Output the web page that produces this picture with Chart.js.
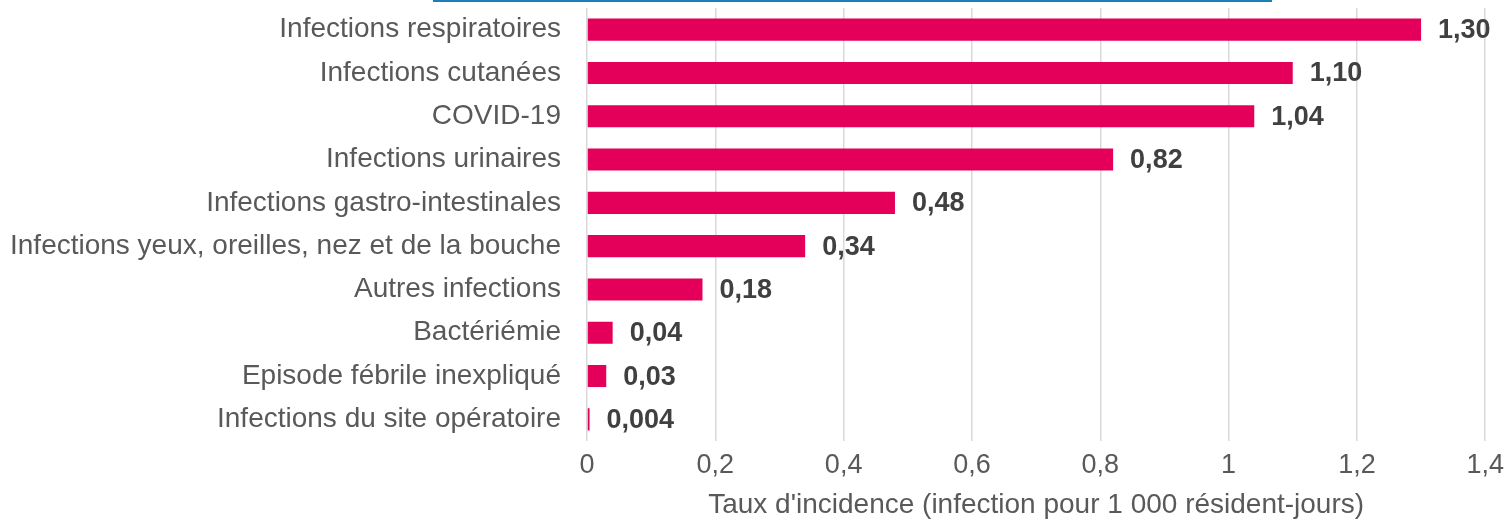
<!DOCTYPE html>
<html>
<head>
<meta charset="utf-8">
<script src="https://cdn.jsdelivr.net/npm/chart.js@4"></script>
<style>
  html, body { margin: 0; padding: 0; background: #fff; }
  #wrap { width: 1512px; height: 522px; }
</style>
</head>
<body>
<div id="wrap"><canvas id="chart"></canvas></div>
<script>
const categories = [
  'Infections respiratoires',
  'Infections cutanées',
  'COVID-19',
  'Infections urinaires',
  'Infections gastro-intestinales',
  'Infections yeux, oreilles, nez et de la bouche',
  'Autres infections',
  'Bactériémie',
  'Episode fébrile inexpliqué',
  'Infections du site opératoire'
];
const rates = [1.30, 1.10, 1.04, 0.82, 0.48, 0.34, 0.18, 0.04, 0.03, 0.004];
const xTicks = [0, 0.2, 0.4, 0.6, 0.8, 1, 1.2, 1.4];

const FONT = '"Liberation Sans", Arial, sans-serif';
const frNum = (v, min, max) =>
  v.toLocaleString('fr-FR', { minimumFractionDigits: min, maximumFractionDigits: max });

// bold value text after the end of each bar
const valueLabels = {
  id: 'valueLabels',
  afterDatasetsDraw(chart) {
    const { ctx } = chart;
    const meta = chart.getDatasetMeta(0);
    ctx.save();
    ctx.font = 'bold 27px ' + FONT;
    ctx.fillStyle = '#404040';
    ctx.textBaseline = 'middle';
    meta.data.forEach((bar, i) => {
      ctx.fillText(frNum(rates[i], 2, 3), bar.x + 17, bar.y + 1);
    });
    ctx.restore();
  }
};

// thin blue rule at the very top (leftover of the slide frame)
const topRule = {
  id: 'topRule',
  afterDraw(chart) {
    const { ctx } = chart;
    ctx.save();
    ctx.fillStyle = '#1a80b6';
    ctx.fillRect(433, 0, 839, 2);
    ctx.restore();
  }
};

new Chart(document.getElementById('chart'), {
  type: 'bar',
  data: {
    labels: categories,
    datasets: [{
      data: rates,
      backgroundColor: '#e4005a',
      borderWidth: 0,
      barPercentage: 1,
      categoryPercentage: 0.51
    }]
  },
  options: {
    indexAxis: 'y',
    responsive: true,
    maintainAspectRatio: false,
    animation: false,
    layout: { padding: { top: 8, right: 24, left: 0, bottom: 0 } },
    plugins: {
      legend: { display: false },
      tooltip: { enabled: false }
    },
    scales: {
      x: {
        min: 0,
        max: 1.4,
        afterBuildTicks: (axis) => { axis.ticks = xTicks.map(v => ({ value: v })); },
        afterFit: (axis) => { axis.height = 81; },
        grid: { color: '#d9d9d9', lineWidth: 1.5, drawTicks: false },
        border: { display: false },
        ticks: {
          padding: 8,
          maxRotation: 0,
          color: '#595959',
          font: { family: FONT, size: 27 },
          callback: (v) => frNum(v, 0, 1)
        },
        title: {
          display: true,
          text: "Taux d'incidence (infection pour 1 000 résident-jours)",
          color: '#595959',
          font: { family: FONT, size: 28 },
          padding: { top: 0, bottom: 0 }
        }
      },
      y: {
        afterFit: (axis) => {
          axis.width = 587;
          axis.paddingTop = 0;
          axis.paddingBottom = 0;
        },
        grid: { display: false, drawTicks: false },
        border: { display: false },
        ticks: {
          padding: 26,
          color: '#595959',
          font: { family: FONT, size: 28 }
        }
      }
    }
  },
  plugins: [valueLabels, topRule]
});
</script>
</body>
</html>
